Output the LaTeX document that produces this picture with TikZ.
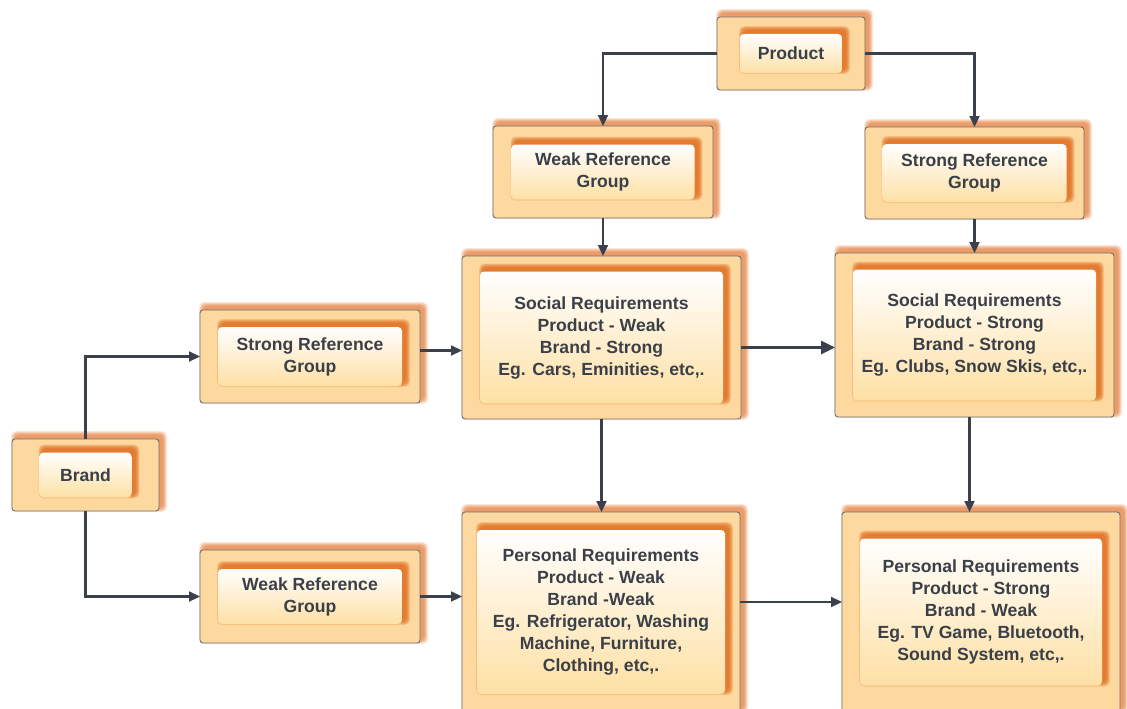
\documentclass[tikz,border=0pt]{standalone}
\usepackage{fontspec}
\setmainfont{Liberation Sans}
\usetikzlibrary{arrows.meta}

\definecolor{boxfill}{RGB}{253,217,160}
\definecolor{boxline}{RGB}{112,112,112}
\definecolor{glowc}{RGB}{224,104,26}
\definecolor{innerbot}{RGB}{254,224,164}
\definecolor{innermid}{RGB}{255,244,226}
\definecolor{wire}{RGB}{59,65,75}
\definecolor{ink}{RGB}{58,63,72}

\tikzset{
  outerbox/.style={draw=boxline, line width=0.9pt, fill=boxfill,
    rounded corners=3pt, inner sep=0pt, outer sep=0pt},
  innerbox/.style={rounded corners=4pt, inner sep=0pt, outer sep=0pt,
    top color=white, middle color=innermid, bottom color=innerbot,
    align=center, text=ink, font=\bfseries\fontsize{17.6}{22}\selectfont},
  arr/.style={draw=wire, line width=2.2pt,
    -{Triangle[length=11pt,width=10pt]}},
  arrbold/.style={draw=wire, line width=3pt,
    -{Triangle[length=14pt,width=13pt]}},
}

% soft orange halo, pushed up and to the right
% #1 opacity, #2 cx, #3 cy, #4 width, #5 height
\newcommand\halo[5]{%
  \foreach \k in {1,...,10}{%
    \fill[glowc, opacity=#1, rounded corners=5pt]
      ({#2-#4/2+3.5-\k*0.45},{#3-#5/2-3.5-\k*0.45}) rectangle
      ({#2+#4/2+3.5+\k*0.45},{#3+#5/2-3.5+\k*0.45});
  }%
}

% framed box with an inner label panel
% #1 name, #2 cx, #3 cy, #4 outer w, #5 outer h, #6 inner w, #7 inner h, #8 text
\newcommand\panelbox[8]{%
  \halo{0.1}{#2}{#3}{#4}{#5}
  \node[outerbox, minimum width=#4pt, minimum height=#5pt] (#1) at (#2,#3) {};
  \halo{0.15}{#2}{#3}{#6}{#7}
  \node[innerbox, minimum width=#6pt, minimum height=#7pt] (#1-t) at (#2,#3) {#8};
}

\begin{document}
\begin{tikzpicture}[x=1pt,y=-1pt]
\useasboundingbox (0,0) rectangle (1127,709);
\clip (0,0) rectangle (1127,709);

\panelbox{prod}{791}{53.5}{148}{73}{102}{39}{Product}
\panelbox{wrgT}{603}{172}{220}{92}{183}{55}{Weak Reference\\Group}
\panelbox{srgT}{974.5}{173}{219}{92}{184}{58}{Strong Reference\\Group}
\panelbox{soc1}{601.5}{337.5}{279}{163}{243}{132}{Social Requirements\\Product - Weak\\Brand - Strong\\Eg. Cars, Eminities, etc,.}
\panelbox{soc2}{974.5}{335}{279}{164}{243}{131}{Social Requirements\\Product - Strong\\Brand - Strong\\Eg. Clubs, Snow Skis, etc,.}
\panelbox{brand}{85.5}{475}{147}{72}{92}{45}{Brand}
\panelbox{srgL}{310}{356.5}{220}{93}{184}{59}{Strong Reference\\Group}
\panelbox{wrgL}{310}{596.5}{220}{93}{184}{55}{Weak Reference\\Group}
\panelbox{per1}{601}{612}{278}{200}{248}{164}{Personal Requirements\\Product - Weak\\Brand -Weak\\Eg. Refrigerator, Washing\\Machine, Furniture,\\Clothing, etc,.}
\panelbox{per2}{981}{612}{278}{200}{242}{147}{Personal Requirements\\Product - Strong\\Brand - Weak\\Eg. TV Game, Bluetooth,\\Sound System, etc,.}

% connectors
\draw[arr] (prod.west) -| (wrgT.north);
\draw[arr] (prod.east) -| (srgT.north);
\draw[arr] (wrgT.south) -- (wrgT.south |- soc1.north);
\draw[arr] (srgT.south) -- (srgT.south |- soc2.north);
\draw[arr] (brand.north) |- (srgL.west);
\draw[arr] (brand.south) |- (wrgL.west);
\draw[arr] ([yshift=6pt]srgL.east) -- ([yshift=6pt]srgL.east -| soc1.west);
\draw[arr] (wrgL.east) -- (wrgL.east -| per1.west);
\draw[arrbold] ([yshift=-10pt]soc1.east) -- ([yshift=-10pt]soc1.east -| soc2.west);
\draw[arr] ([yshift=10pt]per1.east) -- ([yshift=10pt]per1.east -| per2.west);
\draw[arr] (soc1.south) -- (soc1.south |- per1.north);
\draw[arr] ([xshift=-5pt]soc2.south) -- ([xshift=-5pt]soc2.south |- per2.north);
\end{tikzpicture}
\end{document}
